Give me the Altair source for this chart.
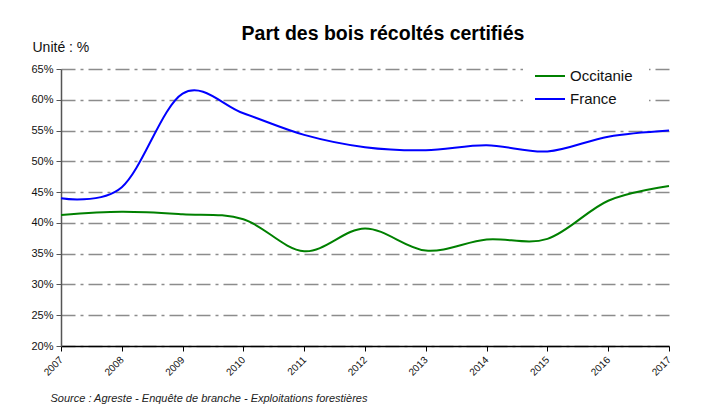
import altair as alt
import pandas as pd

years = list(range(2007, 2018))
france = [44.0, 45.8, 61.0, 57.8, 54.3, 52.3, 51.8, 52.6, 51.6, 54.0, 55.0]
occitanie = [41.3, 41.8, 41.4, 40.6, 35.4, 39.1, 35.5, 37.3, 37.4, 43.6, 46.0]
series_names = ["Occitanie", "France"]
series_colors = ["#008000", "#0000ff"]
y_ticks = [20, 25, 30, 35, 40, 45, 50, 55, 60, 65]

rows = []
for y, v in zip(years, occitanie):
    rows.append({"annee": y, "valeur": v, "serie": "Occitanie"})
for y, v in zip(years, france):
    rows.append({"annee": y, "valeur": v, "serie": "France"})
df = pd.DataFrame(rows)

FONT = "Liberation Sans"

chart = alt.Chart(df).mark_line(
    interpolate="cardinal", tension=0, strokeWidth=2
).encode(
    x=alt.X("annee:Q",
            scale=alt.Scale(domain=[2007, 2017], nice=False, zero=False),
            axis=alt.Axis(values=years, format="d", labelAngle=315,
                          labelAlign="right", labelBaseline="middle",
                          labelFontSize=10, labelFont=FONT, labelColor="#111",
                          domainColor="#000", domainWidth=1.5,
                          tickColor="#000", tickSize=5, tickWidth=1,
                          grid=False, labelPadding=7,
                          title="Source : Agreste - Enquête de branche - Exploitations forestières",
                          titleFont=FONT, titleFontSize=11, titleFontStyle="italic",
                          titleFontWeight="normal", titleColor="#222",
                          titleAngle=0, titleAlign="left", titleBaseline="middle",
                          titleX=-11, titleY=52)),
    y=alt.Y("valeur:Q",
            scale=alt.Scale(domain=[20, 65], nice=False, zero=False),
            axis=alt.Axis(values=y_ticks, labelExpr="datum.value + '%'",
                          labelFontSize=11, labelFont=FONT, labelColor="#111",
                          domainColor="#555", domainWidth=1.5,
                          tickColor="#555", tickSize=5, labelPadding=3,
                          grid=True, gridColor="#8c8c8c", gridWidth=1.3,
                          gridDash=[14, 5, 3, 5],
                          title="Unité : %", titleFont=FONT, titleFontSize=14,
                          titleFontWeight="normal", titleColor="#111",
                          titleAngle=0, titleAlign="left", titleBaseline="middle",
                          titleX=-29, titleY=-22)),
    color=alt.Color("serie:N",
                    scale=alt.Scale(domain=series_names, range=series_colors),
                    legend=alt.Legend(title=None, orient="none",
                                      legendX=462, legendY=-20,
                                      fillColor="white", padding=16,
                                      labelFont=FONT, labelFontSize=15,
                                      labelColor="#111", labelOffset=9,
                                      symbolType="M-1.5,0H1.5", symbolSize=400,
                                      symbolStrokeWidth=2, rowPadding=4)),
).properties(
    width=608, height=277,
    title=alt.TitleParams("Part des bois récoltés certifiés", font=FONT,
                          fontSize=19.5, fontWeight="bold", color="#000",
                          anchor="middle", dx=18, offset=-4),
    autosize=alt.AutoSizeParams(type="none"),
    padding={"left": 53, "top": 61, "right": 33, "bottom": 59},
    background="white",
).configure_view(stroke=None)

chart.save("out.html", embed_options={"renderer": "svg", "actions": False})
